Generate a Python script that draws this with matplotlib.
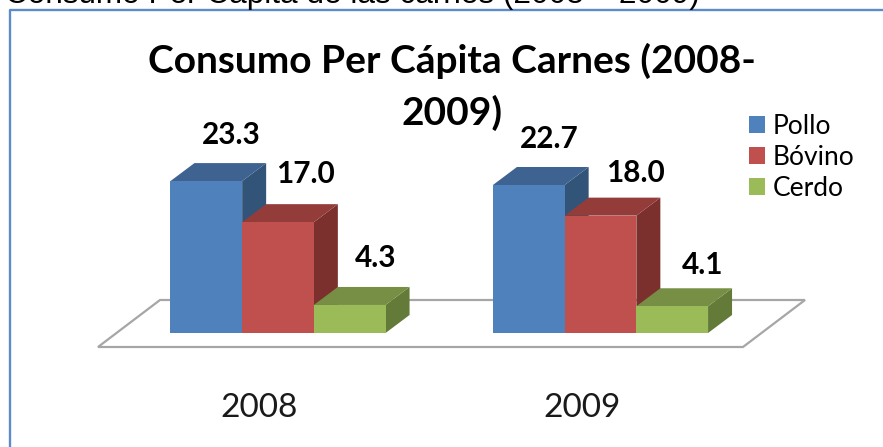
import matplotlib
matplotlib.use('Agg')
import matplotlib.pyplot as plt
import numpy as np

plt.rcParams['font.family'] = ['Lato', 'DejaVu Sans']

years = ['2008', '2009']
series = ['Pollo', 'Bóvino', 'Cerdo']
pollo = [23.3, 22.7]
bovino = [17.0, 18.0]
cerdo = [4.3, 4.1]
values = [pollo, bovino, cerdo]

front = ['#4F81BD', '#C0504D', '#9BBB59']
top = ['#3E6390', '#933C39', '#778F44']
side = ['#335479', '#7B302E', '#647A39']

W, H = 883, 447
px_x = 322.5    # pixels par groupe
px_y = 6.52     # pixels par unite
x0, y0 = 278, 333
bar_w = 71.7 / px_x
dx, dy = 24 / px_x, 18 / px_y

fig = plt.figure(figsize=(W / 100, H / 100), dpi=100)
ax = fig.add_axes([0, 0, 1, 1])
ax.set_xlim(-x0 / px_x, (W - x0) / px_x)
ax.set_ylim(-(H - y0) / px_y, y0 / px_y)
ax.axis('off')

# Plancher
floor_x = np.array([-180, 465, 527, -118]) / px_x
floor_y = np.array([-14, -14, 33, 33]) / px_y
ax.fill(floor_x, floor_y, facecolor='white', edgecolor='#A6A6A6', linewidth=1.6, zorder=1)

# Barres 3D
xpos = np.arange(len(years))
for i, s in enumerate(series):
    for j in xpos:
        left = j + (i - 1.5) * bar_w
        v = values[i][j]
        z = 2 + i * 3
        ax.fill([left + bar_w, left + bar_w + dx, left + bar_w + dx, left + bar_w],
                [0, dy, v + dy, v], color=side[i], lw=0, zorder=z)
        ax.fill([left, left + dx, left + bar_w + dx, left + bar_w],
                [v, v + dy, v + dy, v], color=top[i], lw=0, zorder=z + 1)
    ax.bar(xpos + (i - 1) * bar_w, values[i], bar_w, color=front[i], zorder=2 + i * 3 + 2, label=s)

# Etiquettes des valeurs
label_x = [[-47, 27, 98], [-51.5, 34.5, 102.5]]
label_y = [[30.4, 24.4, 11.5], [29.8, 24.6, 10.4]]
for j in xpos:
    for i in range(3):
        ax.text(j + label_x[j][i] / px_x, label_y[j][i], f'{values[i][j]:.1f}', fontsize=21.4,
                fontweight='bold', ha='center', va='center', color='black', zorder=20)

# Annees
for j in xpos:
    ax.text(j - 18.5 / px_x, -(408 - y0) / px_y, years[j], fontsize=24, ha='center', va='center', color='#1a1a1a')

# Titre
fig.text(452 / W, 1 - 61 / H, 'Consumo Per Cápita Carnes (2008-', fontsize=28, fontweight='bold', ha='center', va='center')
fig.text(452 / W, 1 - 113 / H, '2009)', fontsize=28, fontweight='bold', ha='center', va='center')

# Legende
leg = ax.legend(loc='upper left', bbox_to_anchor=(749 / W, 1 - 114 / H), frameon=False, fontsize=19,
                handlelength=0.6, handleheight=0.6, handletextpad=0.3, labelspacing=0.22,
                borderpad=0, borderaxespad=0)
leg.set_zorder(20)

# Cadre et texte coupe en haut
fig.add_artist(plt.Line2D([9.7 / W, 9.7 / W, 1], [0, 1 - 10.3 / H, 1 - 10.3 / H], color='#5B8CC9', lw=1.7))
fig.text(5 / W, 1 - 3 / H, 'Consumo Per Cápita de las carnes (2008 – 2009)', fontsize=22.7,
         family='Liberation Sans', ha='left', va='baseline', color='black')

fig.savefig('out.png', dpi=100)
